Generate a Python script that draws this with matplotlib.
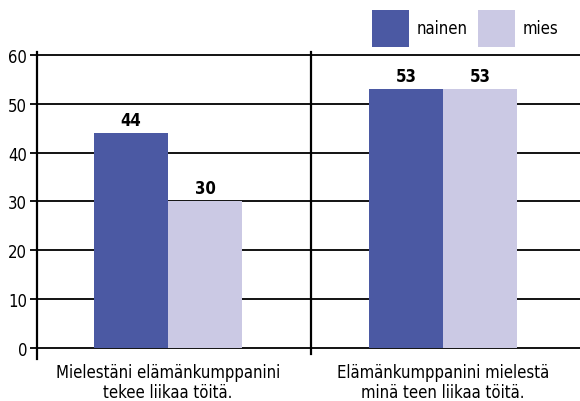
import matplotlib.pyplot as plt
import numpy as np

# Narrow sans if one is installed, else DejaVu
plt.rcParams['font.family'] = ['Liberation Sans Narrow', 'DejaVu Sans']
plt.rcParams['font.stretch'] = 'condensed'
plt.rcParams['font.size'] = 12

# Data
categories = ['Mielestäni elämänkumppanini\ntekee liikaa töitä.',
              'Elämänkumppanini mielestä\nminä teen liikaa töitä.']
series = ['nainen', 'mies']
nainen = [44, 53]
mies = [30, 53]
colors = ['#4B59A3', '#CBC9E4']
yticks = [0, 10, 20, 30, 40, 50, 60]

W, H = 580, 402
fig = plt.figure(figsize=(W / 100, H / 100), dpi=100)
ax = fig.add_axes([37 / W, 42.3 / H, 1 - 37 / W, (349.4 - 42.3) / H])

x = np.arange(len(categories))
w = 0.27
b1 = ax.bar(x - w / 2, nainen, w, color=colors[0], label=series[0], zorder=3)
b2 = ax.bar(x + w / 2, mies, w, color=colors[1], label=series[1], zorder=3)
for bars in (b1, b2):
    ax.bar_label(bars, padding=3, fontweight='bold', fontsize=12)

ax.set_xlim(-0.476, 1.498)
ax.set_ylim(-2.2, 60.7)
ax.set_yticks(yticks)
ax.set_xticks(x)
ax.set_xticklabels(categories, fontsize=12, linespacing=1.15)
ax.tick_params(axis='x', length=0, pad=3)
ax.tick_params(axis='y', length=5, width=1.3, color='black', pad=2, labelsize=12)

ax.grid(axis='y', color='black', linewidth=1.3)
ax.set_axisbelow(True)
for s in ['top', 'right', 'bottom']:
    ax.spines[s].set_visible(False)
ax.spines['left'].set_linewidth(1.6)

# separator between the groups
ax.plot([0.52, 0.52], [-1.2, 60.7], color='black', lw=1.6, zorder=2, clip_on=False)

ax.legend(loc='upper left', bbox_to_anchor=(372 / W, 1 - 11 / H),
          bbox_transform=fig.transFigure, ncol=2, frameon=False,
          borderpad=0, borderaxespad=0, handlelength=2.2, handleheight=3.0,
          handletextpad=0.5, columnspacing=0.6, fontsize=12)

fig.savefig('out.png', dpi=100)
